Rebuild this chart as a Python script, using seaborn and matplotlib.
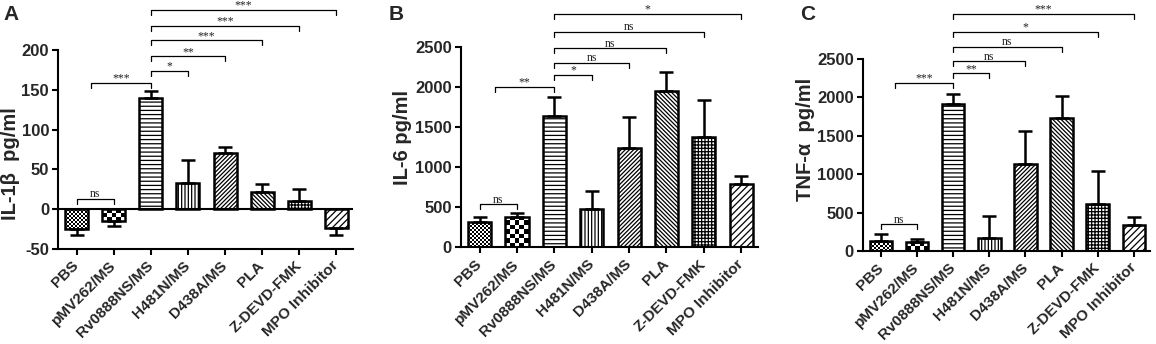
import numpy as np
import matplotlib
matplotlib.use("Agg")
import matplotlib.pyplot as plt
import seaborn as sns

# -------------------------- data --------------------------
categories = ["PBS", "pMV262/MS", "Rv0888NS/MS", "H481N/MS",
              "D438A/MS", "PLA", "Z-DEVD-FMK", "MPO Inhibitor"]

il1b_mean = [-25, -15, 140, 33, 71, 22, 10, -24]
il1b_err = [7, 6, 8, 29, 7, 10, 15, 9]

il6_mean = [320, 383, 1642, 475, 1237, 1954, 1375, 792]
il6_err = [63, 42, 241, 229, 396, 242, 463, 100]

tnf_mean = [130, 113, 1906, 165, 1131, 1733, 611, 338]
tnf_err = [95, 47, 139, 285, 429, 277, 433, 108]

# comparisons: (group a, group b, bracket level, label)
il1b_sig = [(0, 1, 13, "ns"), (1, 2, 159, "***"), (2, 3, 174, "*"), (2, 4, 192, "**"),
            (2, 5, 212, "***"), (2, 6, 230, "***"), (2, 7, 250, "***")]
il6_sig = [(0, 1, 537, "ns"), (1, 2, 2004, "**"), (2, 3, 2158, "*"), (2, 4, 2308, "ns"),
           (2, 5, 2487, "ns"), (2, 6, 2695, "ns"), (2, 7, 2916, "*")]
tnf_sig = [(0, 1, 351, "ns"), (1, 2, 2188, "***"), (2, 3, 2309, "**"), (2, 4, 2470, "ns"),
           (2, 5, 2656, "ns"), (2, 6, 2851, "*"), (2, 7, 3081, "***")]

il1b_ticks = [-50, 0, 50, 100, 150, 200]
cyto_ticks = [0, 500, 1000, 1500, 2000, 2500]

# -------------------------- style --------------------------
sns.set_style("ticks")
plt.rcParams["font.family"] = ["Liberation Sans", "DejaVu Sans"]
plt.rcParams["font.weight"] = "bold"
plt.rcParams["hatch.linewidth"] = 0.9

HATCHES = ["checker_fine", "checker", "----", "|||||", "////////",
           "\\\\\\\\\\\\\\\\", "+++++", "/////"]
SERIF = ["Liberation Serif", "DejaVu Serif"]


def add_checker(ax, bar, cell_px):
    x0, y0 = bar.get_x(), bar.get_y()
    x1, y1 = x0 + bar.get_width(), y0 + bar.get_height()
    (px0, py0), (px1, py1) = ax.transData.transform([(x0, y0), (x1, y1)])
    nx = max(1, int(round(abs(px1 - px0) / cell_px)))
    ny = max(1, int(round(abs(py1 - py0) / cell_px)))
    board = np.indices((ny, nx)).sum(axis=0) % 2
    im = ax.imshow(board, cmap="Greys", vmin=0, vmax=1,
                   extent=(x0, x1, min(y0, y1), max(y0, y1)),
                   aspect="auto", interpolation="nearest",
                   zorder=bar.get_zorder() - 0.05)
    im.set_clip_path(bar)
    bar.set_facecolor("none")


def bracket(ax, xa, xb, y, text, tick):
    ax.plot([xa, xa, xb, xb], [y - tick, y, y, y - tick], color="black",
            lw=0.9, clip_on=False, zorder=4)
    ax.text((xa + xb) / 2, y + tick * 0.3, text, ha="center", va="baseline",
            fontsize=8.5, family=SERIF, fontweight="normal", color="#222222",
            clip_on=False)


def draw_panel(ax, means, errs, ylim, yticks, ylabel, sig, label_xy):
    sns.barplot(x=categories, y=means, order=categories, color="white", saturation=1,
                edgecolor="black", linewidth=1.8, width=0.62, errorbar=None, ax=ax)
    ax.set_xlim(-0.5, 7.45)
    ax.set_ylim(*ylim)

    for bar, h in zip(ax.patches, HATCHES):
        if h == "checker_fine":
            add_checker(ax, bar, 2.0)
        elif h == "checker":
            add_checker(ax, bar, 4.3)
        else:
            bar.set_hatch(h)
    ax.set_xlim(-0.5, 7.45)
    ax.set_ylim(*ylim)

    # one-sided SEM bars (away from zero)
    means = np.asarray(means)
    errs = np.asarray(errs)
    lo = np.where(means < 0, errs, 0)
    hi = np.where(means < 0, 0, errs)
    ax.errorbar(np.arange(len(categories)), means, yerr=[lo, hi], fmt="none",
                ecolor="black", elinewidth=1.8, capsize=5, capthick=1.8, zorder=3)

    if ylim[0] < 0:
        ax.axhline(0, color="black", lw=1.5, zorder=3)

    tick = 0.025 * (ylim[1] - ylim[0])
    for a, b, y, txt in sig:
        xa = a - 0.6 if (a, b) == (1, 2) else a
        bracket(ax, xa, b, y, txt, tick)

    ax.set_yticks(yticks)
    ax.set_yticklabels([str(t) for t in yticks], fontsize=12, fontweight="bold")
    ax.set_xticks(range(len(categories)))
    ax.set_xticklabels(categories, rotation=45, ha="right", va="center",
                       rotation_mode="anchor", fontsize=11, fontweight="bold")
    ax.tick_params(axis="both", width=1.5, length=4.5, color="black")
    ax.tick_params(axis="x", pad=6)
    ax.tick_params(axis="y", pad=2)
    for s in ["left", "bottom"]:
        ax.spines[s].set_linewidth(1.5)
        ax.spines[s].set_color("black")
    sns.despine(ax=ax)
    ax.set_xlabel("")
    ax.set_ylabel(ylabel, fontsize=14.5, fontweight="bold")
    ax.yaxis.set_label_coords(*label_xy)


fig = plt.figure(figsize=(11.56, 3.44), dpi=100)
ax_a = fig.add_axes([0.0502, 0.2762, 0.2552, 0.5785])
ax_b = fig.add_axes([0.3988, 0.2811, 0.2569, 0.5814])
ax_c = fig.add_axes([0.7465, 0.2703, 0.2483, 0.5590])

draw_panel(ax_a, il1b_mean, il1b_err, (-50, 200), il1b_ticks, "IL-1β  pg/ml", il1b_sig, (-0.129, 0.43))
draw_panel(ax_b, il6_mean, il6_err, (0, 2500), cyto_ticks, "IL-6 pg/ml", il6_sig, (-0.165, 0.55))
draw_panel(ax_c, tnf_mean, tnf_err, (0, 2500), cyto_ticks, "TNF-α  pg/ml", tnf_sig, (-0.167, 0.58))

for letter, x in [("A", 0.003), ("B", 0.336), ("C", 0.692)]:
    fig.text(x, 0.985, letter, fontsize=15, fontweight="bold", ha="left", va="top")

fig.savefig("out.png", dpi=100)
